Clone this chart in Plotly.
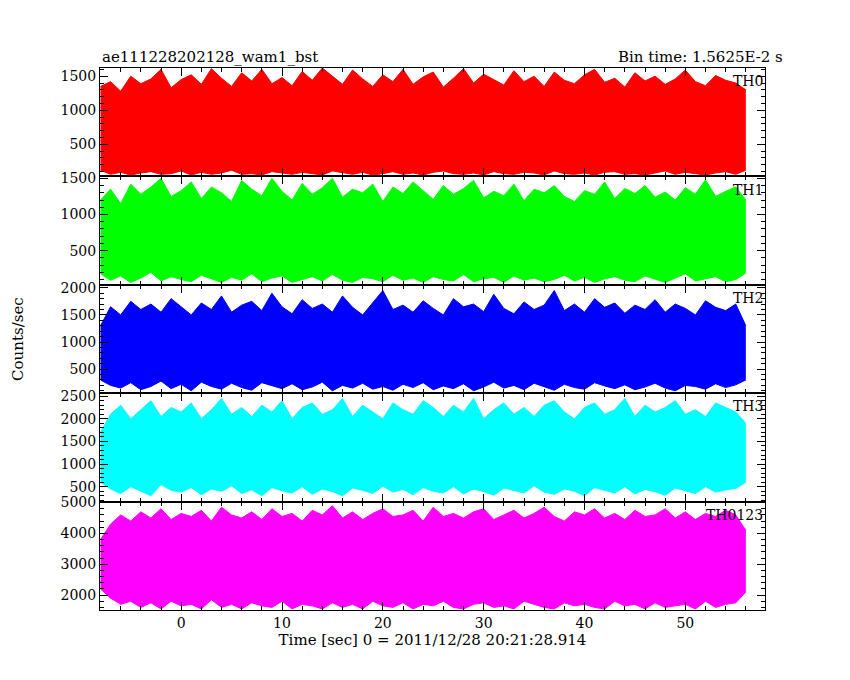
import plotly.graph_objects as go
from plotly.subplots import make_subplots

# time grid (sec), 1 s steps, upper / lower envelopes
time_s = list(range(-8, 57))

th0_hi = [1350, 1420, 1280, 1500, 1390, 1460, 1600, 1330, 1450, 1520, 1380, 1610, 1470, 1350, 1550, 1430,
          1600, 1390, 1480, 1360, 1570, 1440, 1620, 1500, 1380, 1590, 1460, 1350, 1520, 1420, 1600, 1380,
          1490, 1560, 1340, 1470, 1610, 1400, 1530, 1450, 1370, 1580, 1420, 1500, 1350, 1560, 1440, 1390,
          1520, 1600, 1410, 1470, 1340, 1550, 1430, 1500, 1380, 1460, 1590, 1420, 1360, 1510, 1440, 1400, 1300]
th0_lo = [120, 60, 90, 50, 80, 100, 60, 70, 110, 50, 90, 60, 80, 120, 60, 70, 50, 100, 80, 60, 90, 70,
          50, 110, 80, 60, 90, 50, 70, 100, 60, 80, 50, 90, 110, 70, 60, 80, 50, 100, 70, 60, 90, 80, 50,
          110, 70, 60, 80, 50, 90, 100, 60, 70, 50, 80, 110, 60, 90, 70, 50, 80, 100, 60, 120]

th1_hi = [1200, 1350, 1150, 1420, 1280, 1380, 1500, 1250, 1330, 1450, 1220, 1380, 1300, 1180, 1470, 1350,
          1260, 1500, 1320, 1200, 1430, 1280, 1370, 1500, 1240, 1350, 1300, 1420, 1180, 1380, 1290, 1450,
          1330, 1210, 1400, 1280, 1360, 1470, 1230, 1320, 1260, 1420, 1190, 1350, 1300, 1400, 1250, 1180,
          1330, 1280, 1450, 1220, 1360, 1290, 1400, 1240, 1310, 1200, 1370, 1280, 1480, 1250, 1320, 1380, 1200]
th1_lo = [180, 90, 150, 60, 120, 200, 80, 140, 100, 70, 160, 110, 60, 130, 90, 180, 70, 120, 150, 60,
          100, 140, 80, 170, 90, 60, 130, 110, 70, 160, 90, 120, 60, 140, 100, 80, 170, 70, 110, 130, 60,
          150, 90, 120, 70, 100, 160, 80, 130, 60, 110, 140, 90, 70, 150, 100, 60, 120, 180, 80, 110, 140, 70, 100, 190]

th2_hi = [1300, 1650, 1500, 1750, 1600, 1700, 1550, 1800, 1650, 1500, 1720, 1600, 1850, 1550, 1680, 1750,
          1580, 1900, 1650, 1520, 1780, 1620, 1700, 1550, 1850, 1640, 1500, 1720, 1950, 1600, 1680, 1550,
          1760, 1620, 1500, 1800, 1650, 1700, 1560, 1880, 1620, 1520, 1740, 1600, 1680, 1950, 1580, 1700,
          1550, 1800, 1640, 1720, 1530, 1680, 1600, 1780, 1550, 1700, 1620, 1500, 1760, 1640, 1580, 1700, 1300]
th2_lo = [300, 200, 150, 250, 120, 180, 280, 140, 220, 100, 260, 180, 130, 240, 160, 110, 250, 190, 140,
          230, 120, 170, 260, 100, 200, 150, 240, 130, 180, 110, 220, 160, 250, 120, 190, 140, 230, 100, 170,
          260, 150, 200, 120, 240, 180, 110, 220, 160, 130, 250, 190, 140, 210, 120, 170, 240, 150, 100, 200,
          180, 130, 230, 160, 210, 300]

th3_hi = [1700, 2100, 2300, 2000, 2200, 2400, 2050, 2250, 2150, 2350, 2000, 2200, 2450, 2100, 2250, 2050,
          2300, 2150, 2400, 2000, 2250, 2350, 2100, 2200, 2450, 2050, 2300, 2150, 2000, 2350, 2200, 2100,
          2400, 2250, 2050, 2300, 2150, 2450, 2000, 2200, 2350, 2100, 2250, 2050, 2300, 2400, 2150, 2000,
          2250, 2350, 2100, 2200, 2450, 2050, 2300, 2150, 2250, 2400, 2100, 2200, 2050, 2350, 2250, 2150, 1900]
th3_lo = [600, 450, 350, 500, 400, 300, 550, 420, 380, 480, 320, 450, 400, 520, 350, 430, 300, 480, 410,
          360, 500, 330, 450, 390, 300, 470, 420, 350, 510, 380, 440, 320, 480, 400, 360, 500, 340, 450, 390,
          310, 470, 420, 360, 520, 380, 330, 450, 400, 300, 480, 420, 360, 500, 340, 440, 390, 310, 470, 410,
          350, 500, 380, 430, 460, 600]

th0123_hi = [3800, 4300, 4600, 4400, 4700, 4500, 4800, 4450, 4650, 4550, 4750, 4400, 4850, 4600, 4500, 4700,
             4450, 4800, 4550, 4650, 4400, 4750, 4600, 4900, 4500, 4700, 4450, 4650, 4800, 4550, 4600, 4750,
             4400, 4850, 4550, 4650, 4500, 4700, 4800, 4450, 4600, 4750, 4500, 4650, 4850, 4550, 4400, 4700,
             4600, 4800, 4500, 4650, 4450, 4750, 4550, 4600, 4800, 4500, 4700, 4450, 4650, 4550, 4750, 4600, 4100]
th0123_lo = [2200, 1900, 1700, 1800, 1600, 1750, 1550, 1800, 1650, 1700, 1550, 1850, 1600, 1700, 1550, 1750,
             1650, 1600, 1800, 1550, 1700, 1650, 1550, 1750, 1600, 1700, 1550, 1800, 1650, 1600, 1750, 1550,
             1700, 1650, 1800, 1600, 1550, 1700, 1750, 1600, 1650, 1550, 1800, 1700, 1600, 1550, 1750, 1650,
             1700, 1600, 1550, 1800, 1650, 1700, 1550, 1750, 1600, 1650, 1700, 1550, 1800, 1600, 1700, 1750, 2100]

panels = [
    ("TH0", th0_hi, th0_lo, "#ff0000", [30, 1620], 500),
    ("TH1", th1_hi, th1_lo, "#00ff00", [27, 1527], 500),
    ("TH2", th2_hi, th2_lo, "#0000ff", [56, 2055], 500),
    ("TH3", th3_hi, th3_lo, "#00ffff", [170, 2566], 500),
    ("TH0123", th0123_hi, th0123_lo, "#ff00ff", [1516, 5032], 1000),
]

FONT = "DejaVu Serif"

fig = make_subplots(rows=5, cols=1, shared_xaxes=True, vertical_spacing=0)

for i, (name, hi, lo, color, yr, dt) in enumerate(panels, start=1):
    fig.add_trace(go.Scatter(x=time_s, y=lo, mode="lines", line=dict(color=color, width=1),
                             showlegend=False, hoverinfo="skip"), row=i, col=1)
    fig.add_trace(go.Scatter(x=time_s, y=hi, mode="lines", line=dict(color=color, width=1),
                             fill="tonexty", fillcolor=color, showlegend=False, name=name), row=i, col=1)
    fig.update_yaxes(range=yr, dtick=dt, row=i, col=1)
    fig.add_annotation(text=name, xref="x domain", yref=f"y{i if i > 1 else ''} domain",
                       x=1.0, y=0.97, xanchor="right", yanchor="top", showarrow=False,
                       font=dict(family=FONT, size=14, color="black"))

axis_style = dict(showline=True, linecolor="black", linewidth=1, mirror="ticks", ticks="inside",
                  ticklen=8, tickcolor="black", showgrid=False, zeroline=False, automargin=False,
                  tickfont=dict(family=FONT, size=14, color="black"),
                  minor=dict(ticks="inside", ticklen=4, tickcolor="black"))
fig.update_xaxes(**axis_style, range=[-8.05, 57.9], dtick=10)
fig.update_xaxes(showticklabels=True, row=5, col=1)
fig.update_xaxes(title=dict(text="Time [sec] 0 = 2011/12/28 20:21:28.914",
                            font=dict(family=FONT, size=15, color="black"), standoff=2), row=5, col=1)
fig.update_yaxes(**axis_style)

fig.add_annotation(text="Counts/sec", xref="paper", yref="paper", x=-0.14, y=0.5, textangle=-90,
                   showarrow=False, font=dict(family=FONT, size=15, color="black"))
fig.add_annotation(text="ae111228202128_wam1_bst", xref="paper", yref="paper", x=0, y=1.0,
                   xanchor="left", yanchor="bottom", showarrow=False,
                   font=dict(family=FONT, size=15, color="black"))
fig.add_annotation(text="Bin time: 1.5625E-2 s", xref="paper", yref="paper", x=1.03, y=1.0,
                   xanchor="right", yanchor="bottom", showarrow=False,
                   font=dict(family=FONT, size=15, color="black"))

fig.update_layout(width=850, height=680, plot_bgcolor="white", paper_bgcolor="white",
                  margin=dict(l=92, r=93, t=60, b=78))

fig.write_html("out.html")
